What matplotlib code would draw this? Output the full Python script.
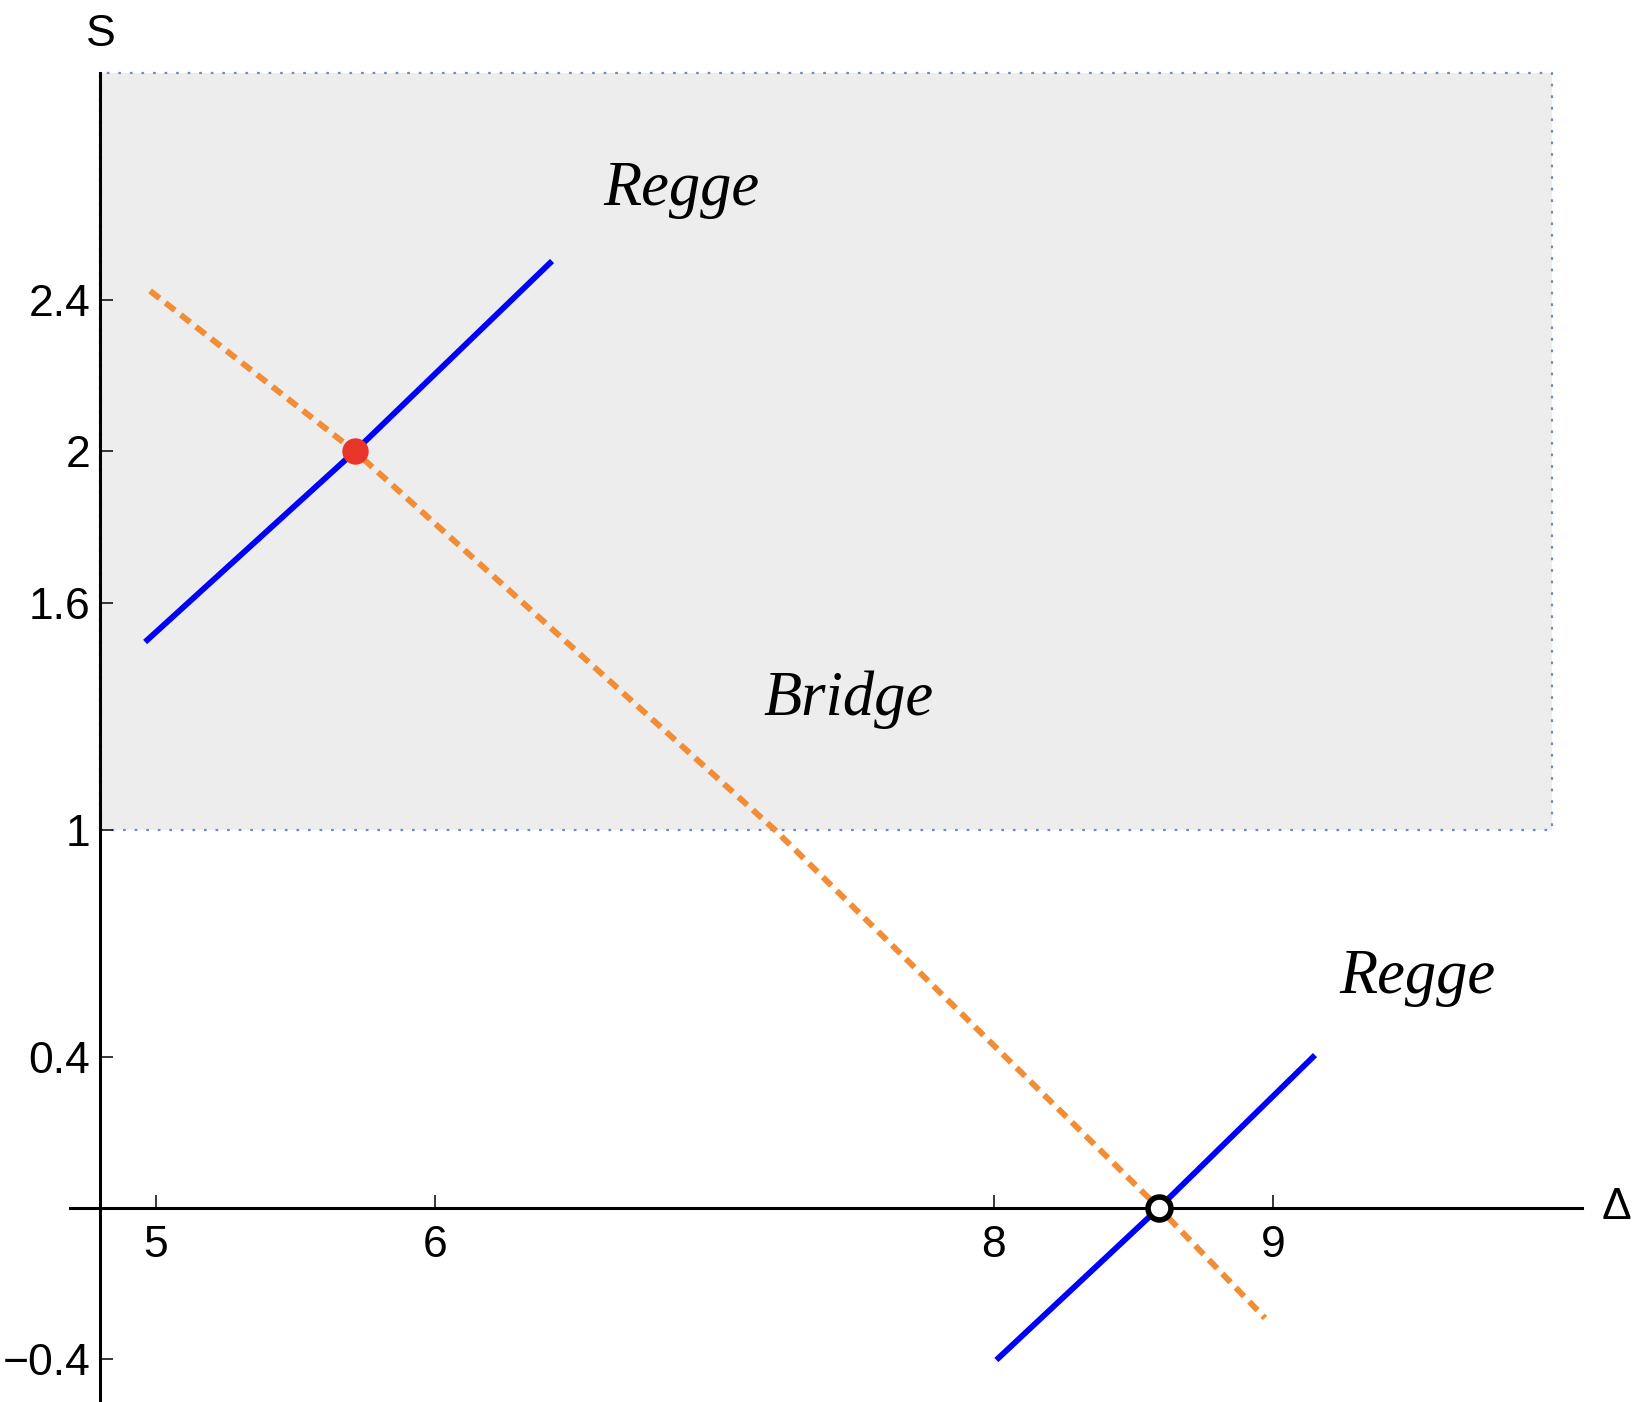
import matplotlib
matplotlib.use("Agg")
import matplotlib.pyplot as plt
from matplotlib.patches import Rectangle

# Data
regge1_x = [4.961, 5.712, 6.418]
regge1_y = [1.496, 2.000, 2.503]
regge2_x = [8.009, 8.591, 9.150]
regge2_y = [-0.402, 0.000, 0.404]
bridge_x = [4.979, 5.712, 7.215, 8.591, 8.971]
bridge_y = [2.424, 2.000, 1.000, 0.000, -0.291]
red_point = (5.712, 2.0)
open_point = (8.591, 0.0)
region_x = (4.8, 10.0)
region_y = (1.0, 3.0)
xticks = [5, 6, 8, 9]
yticks = [-0.4, 0.4, 1, 1.6, 2, 2.4]
ytick_labels = ["\u22120.4", "0.4", "1", "1.6", "2", "2.4"]
labels = [("Regge", 6.880, 2.651), ("Bridge", 7.481, 1.303), ("Regge", 9.517, 0.568)]

W, H = 1648, 1402
fig = plt.figure(figsize=(W / 100, H / 100), dpi=100)
ax = fig.add_axes([70 / W, 0, 1512 / W, 1329 / H])
ax.set_xlim(4.692, 10.106)
ax.set_ylim(-0.513, 3.0)
ax.patch.set_alpha(0)

# shaded region
rect = Rectangle((region_x[0], region_y[0]), region_x[1] - region_x[0], region_y[1] - region_y[0],
                 facecolor="#EDEDED", edgecolor="none", zorder=0, clip_on=False)
ax.add_patch(rect)
rx = [region_x[0], region_x[1], region_x[1], region_x[0], region_x[0]]
ry = [region_y[0], region_y[0], region_y[1], region_y[1], region_y[0]]
ax.plot(rx, ry, color="#6F8BC0", lw=1.6, linestyle=(0, (1.2, 4.0)), zorder=1, clip_on=False)

# curves
ax.plot(regge1_x, regge1_y, color="#0000FF", lw=4.2, solid_capstyle="butt", zorder=3)
ax.plot(regge2_x, regge2_y, color="#0000FF", lw=4.2, solid_capstyle="butt", zorder=3)
ax.plot(bridge_x, bridge_y, color="#F28C35", lw=4.3, dashes=(2.0, 1.25),
        dash_capstyle="butt", zorder=4)

ax.plot(*red_point, marker="o", ms=18, color="#E8352A", mec="#E8352A", zorder=6)
ax.plot(*open_point, marker="o", ms=16.5, mfc="white", mec="black", mew=4.0, zorder=6)

# axes styling
for s in ["top", "right"]:
    ax.spines[s].set_visible(False)
ax.spines["left"].set_position(("data", 4.8))
ax.spines["bottom"].set_position(("data", 0))
for s in ["left", "bottom"]:
    ax.spines[s].set_linewidth(2.2)
    ax.spines[s].set_zorder(5)

ax.set_xticks(xticks)
ax.set_xticklabels([str(t) for t in xticks])
ax.set_yticks(yticks)
ax.set_yticklabels(ytick_labels)
tickfont = "Liberation Sans"
ax.tick_params(axis="x", direction="in", length=9.4, width=1.1, pad=12, labelsize=32)
ax.tick_params(axis="y", direction="in", length=9.4, width=1.1, pad=7, labelsize=32)
for lab in ax.get_xticklabels() + ax.get_yticklabels():
    lab.set_fontfamily(tickfont)

ax.text(4.803, 3.103, "S", fontsize=32, family=tickfont, ha="center", va="center", clip_on=False)
ax.text(10.231, 0.0, "\u0394", fontsize=32, family=tickfont, ha="center", va="center", clip_on=False)

for txt, x, y in labels:
    ax.text(x, y, txt, fontsize=45, family="Liberation Serif", style="italic",
            ha="center", va="baseline", zorder=7)

fig.savefig("out.png", dpi=100)
